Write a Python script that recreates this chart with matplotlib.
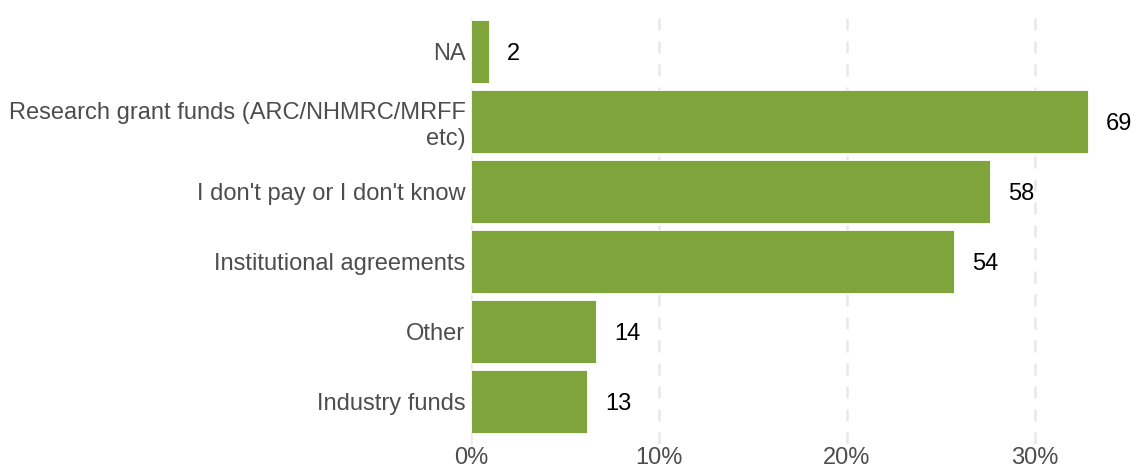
import matplotlib.pyplot as plt

plt.rcParams['font.family'] = ['Liberation Sans', 'DejaVu Sans']

# Funding sources, top to bottom
categories = ["NA",
              "Research grant funds (ARC/NHMRC/MRFF\netc)",
              "I don't pay or I don't know",
              "Institutional agreements",
              "Other",
              "Industry funds"]
counts = [2, 69, 58, 54, 14, 13]
tick_vals = [0, 10, 20, 30]
tick_labels = ["0%", "10%", "20%", "30%"]

total = sum(counts)
pct = [c / total * 100 for c in counts]
ypos = list(range(len(categories)))[::-1]

fig = plt.figure(figsize=(11.36, 4.68), dpi=100)
ax = fig.add_axes([0.4146, 0.0513, 0.5854, 0.9284])

# dashed vertical guides at the percentage ticks
for x in tick_vals:
    ax.axvline(x, color="#e8e8e8", lw=1.8, ls=(0, (4.8, 4.4)), zorder=0)

ax.barh(ypos, pct, height=0.9, color="#7fa43c", edgecolor="white", lw=0.6, zorder=2)

for y, p, c in zip(ypos, pct, counts):
    ax.annotate(str(c), (p, y), xytext=(18, 0), textcoords="offset pixels",
                ha="left", va="center_baseline", fontsize=17, color="black")

ax.set_xlim(0, 35.4)
ax.set_ylim(-0.6, 5.6)
ax.set_yticks(ypos)
ax.set_yticklabels(categories, fontsize=17, color="#4d4d4d", multialignment="right")
ax.set_xticks(tick_vals)
ax.set_xticklabels(tick_labels, fontsize=17, color="#4d4d4d")
ax.tick_params(axis="y", length=0, pad=4)
ax.tick_params(axis="x", length=0, pad=2)
for s in ax.spines.values():
    s.set_visible(False)

fig.savefig("out.png", dpi=100)
